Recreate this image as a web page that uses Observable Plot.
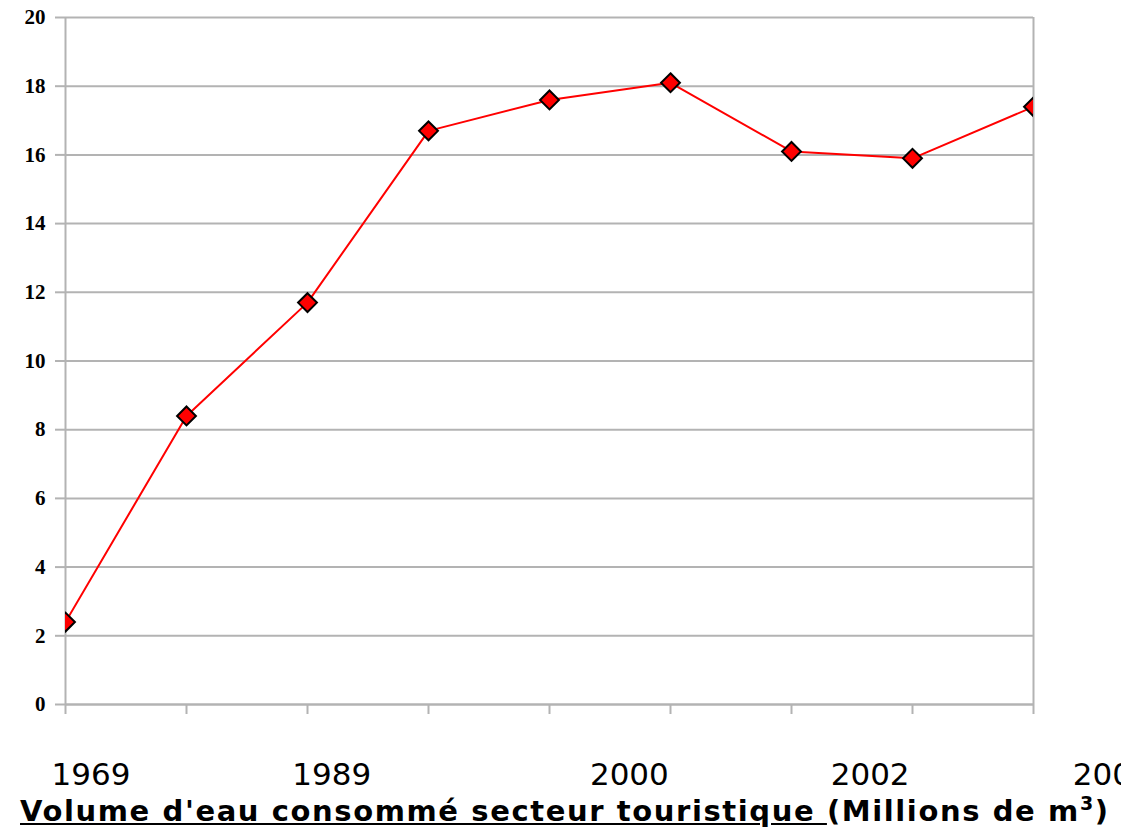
<!DOCTYPE html>
<html><head><meta charset="utf-8">
<script src="https://cdn.jsdelivr.net/npm/d3@7"></script>
<script src="https://cdn.jsdelivr.net/npm/@observablehq/plot@0.6"></script>
<style>
html,body{margin:0;padding:0;background:#fff;overflow:hidden;}
#title{font-family:"DejaVu Sans";font-weight:bold;font-size:29px;letter-spacing:1.6px;margin-left:20px;line-height:33px;white-space:nowrap;color:#000;}
#title sup{font-size:19px;line-height:0;}
</style></head><body>
<div id="chart"></div>
<div id="title"><u>Volume d'eau consommé secteur touristique </u>(Millions de m<sup>3</sup>)</div>
<script>
const values = [2.4, 8.4, 11.7, 16.7, 17.6, 18.1, 16.1, 15.9, 17.4];
const xLabels = ["1969", "1989", "2000", "2002", "2004"];
const xLabelPositions = [0.21, 2.2, 4.66, 6.65, 8.65];
const yTicks = [0, 2, 4, 6, 8, 10, 12, 14, 16, 18, 20];

const data = values.map((v, i) => ({i, v}));
const grid = "#b3b3b3";
const last = values.length - 1;

const plot = Plot.plot({
  width: 1121, height: 795,
  marginLeft: 65, marginRight: 88, marginTop: 17, marginBottom: 91,
  x: {type: "linear", domain: [0, last]},
  y: {domain: [0, 20]},
  style: {background: "white"},
  marks: [
    Plot.gridY(yTicks, {stroke: grid, strokeOpacity: 1, strokeWidth: 2}),
    Plot.ruleX([0, last], {stroke: grid, strokeWidth: 2, y1: 0, y2: 20}),
    Plot.ruleY([0], {stroke: grid, strokeWidth: 2}),
    Plot.axisX(d3.range(values.length), {tickSize: 10, tickFormat: () => "", stroke: grid, strokeWidth: 2, label: null}),
    Plot.axisY(yTicks, {tickSize: 10, tickFormat: () => "", stroke: grid, strokeWidth: 2, label: null}),
    Plot.text(yTicks, {y: d => d, text: d => String(d), frameAnchor: "left", textAnchor: "end", lineAnchor: "middle", dx: -20,
      fontFamily: "Liberation Serif", fontWeight: "bold", fontSize: 21, fill: "black"}),
    Plot.line(data, {x: "i", y: "v", stroke: "#ff0000", strokeWidth: 2, clip: true}),
    Plot.dot(data, {x: "i", y: "v", symbol: "diamond2", r: 8.5, fill: "#ff0000", stroke: "black", strokeWidth: 2, clip: true}),
    Plot.text(xLabels, {x: (d, i) => xLabelPositions[i], text: d => d, frameAnchor: "bottom", lineAnchor: "top", dy: 58,
      fontSize: 31, fontFamily: "DejaVu Sans", fill: "black"})
  ]
});
document.getElementById("chart").appendChild(plot);
</script>
</body></html>
